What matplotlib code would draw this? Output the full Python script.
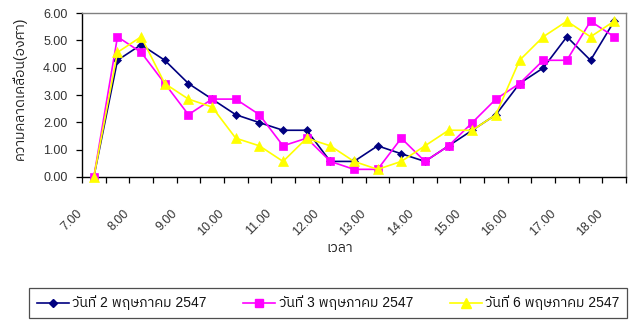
import numpy as np
import matplotlib
matplotlib.use("Agg")
import matplotlib.pyplot as plt
import matplotlib.transforms as mtrans
from matplotlib import font_manager
from matplotlib.ft2font import FT2Font
from matplotlib.lines import Line2D

# ---------------- data ----------------
times = ["7.00", "7.30", "8.00", "8.30", "9.00", "9.30", "10.00", "10.30", "11.00", "11.30",
         "12.00", "12.30", "13.00", "13.30", "14.00", "14.30", "15.00", "15.30", "16.00",
         "16.30", "17.00", "17.30", "18.00"]
day2 = [0.00, 4.27, 4.84, 4.27, 3.42, 2.85, 2.28, 1.99, 1.71, 1.71, 0.57, 0.57, 1.14,
        0.85, 0.57, 1.14, 1.71, 2.28, 3.42, 3.99, 5.13, 4.27, 5.70]
day3 = [0.00, 5.13, 4.56, 3.42, 2.28, 2.85, 2.85, 2.28, 1.14, 1.42, 0.57, 0.28, 0.28,
        1.42, 0.57, 1.14, 1.99, 2.85, 3.42, 4.27, 4.27, 5.70, 5.13]
day6 = [0.00, 4.56, 5.13, 3.42, 2.85, 2.56, 1.42, 1.14, 0.57, 1.42, 1.14, 0.57, 0.28,
        0.57, 1.14, 1.71, 1.71, 2.28, 4.27, 5.13, 5.70, 5.13, 5.70]
series_names = ["วันที่ 2 พฤษภาคม 2547", "วันที่ 3 พฤษภาคม 2547", "วันที่ 6 พฤษภาคม 2547"]
y_ticks = [0, 1, 2, 3, 4, 5, 6]
y_label = "ความคลาดเคลื่อน(องศา)"
x_label = "เวลา"

# ---------------- fonts ----------------
cands = []
for f in font_manager.fontManager.ttflist:
    try:
        cm = FT2Font(f.fname).get_charmap()
        if 0x0E27 in cm and 0x0E25 in cm and 0x0E04 in cm:
            cands.append(f.name)
    except Exception:
        pass
pref = [c for c in cands if "Sans" in c and "Mono" not in c]
thai = pref[0] if pref else (cands[0] if cands else None)
fams = ["Liberation Sans"] + ([thai] if thai else []) + ["DejaVu Sans"]
plt.rcParams["font.family"] = fams

# ---------------- figure ----------------
W, H = 632, 321
fig = plt.figure(figsize=(W / 100, H / 100), dpi=100)
ax = fig.add_axes([82 / W, 1 - 177 / H, 544 / W, 164 / H])

styles = [
    dict(color="#000080", marker="D", markersize=4.4),
    dict(color="#FF00FF", marker="s", markersize=6.3),
    dict(color="#FFFF00", marker="^", markersize=7.5),
]
x = np.arange(len(times))
for z, (vals, st) in enumerate(zip([day2, day3, day6], styles)):
    ax.plot(x, vals, linewidth=1.2, markeredgewidth=0.5, markeredgecolor=st["color"],
            zorder=3 + z, clip_on=False, **st)

ax.set_xlim(-0.5, len(times) - 0.5)
ax.set_ylim(0, 6)
ax.set_yticks(y_ticks)
ax.set_yticklabels([f"{v:.2f}" for v in y_ticks])
ax.set_xticks(np.arange(-0.5, len(times), 1.0))
ax.set_xticklabels([])
ax.set_xticks(x[::2], [times[i] for i in x[::2]], minor=True)
tick_col = "#333333"
ax.tick_params(axis="x", which="major", direction="out", length=4.5, width=0.9, color="black")
ax.tick_params(axis="x", which="minor", length=0, pad=22, labelsize=9, labelcolor=tick_col)
ax.tick_params(axis="y", direction="out", length=4.5, width=0.9, labelsize=9, pad=6,
               labelcolor=tick_col)
offset = mtrans.ScaledTranslation(-9 / 100, 0, fig.dpi_scale_trans)
for lab in ax.get_xticklabels(minor=True):
    lab.set_rotation(45)
    lab.set_ha("right")
    lab.set_va("top")
    lab.set_transform(lab.get_transform() + offset)

for s in ["top", "right"]:
    ax.spines[s].set_color("#808080")
ax.spines["left"].set_color("black")
ax.spines["bottom"].set_color("black")
for s in ax.spines.values():
    s.set_linewidth(1.0)

fig.text(19 / W, 1 - 88 / H, y_label, rotation=90, ha="center", va="center",
         fontsize=10, color="#222222")
fig.text(340 / W, 1 - 248 / H, x_label, ha="center", va="center", fontsize=10,
         color="#222222")

handles = [Line2D([], [], linewidth=1.2, **st) for st in styles]
leg = fig.legend(handles, series_names, loc="lower left", ncol=3, mode="expand",
                 bbox_to_anchor=(29 / W, 1 - 318 / H, 598 / W, 35 / H), borderaxespad=0,
                 fontsize=10, frameon=True, fancybox=False, edgecolor="#222222",
                 handlelength=2.3, handletextpad=0.25, borderpad=0.55)
leg.get_frame().set_linewidth(0.9)
for t in leg.get_texts():
    t.set_color("#111111")

fig.savefig("out.png", dpi=100)
